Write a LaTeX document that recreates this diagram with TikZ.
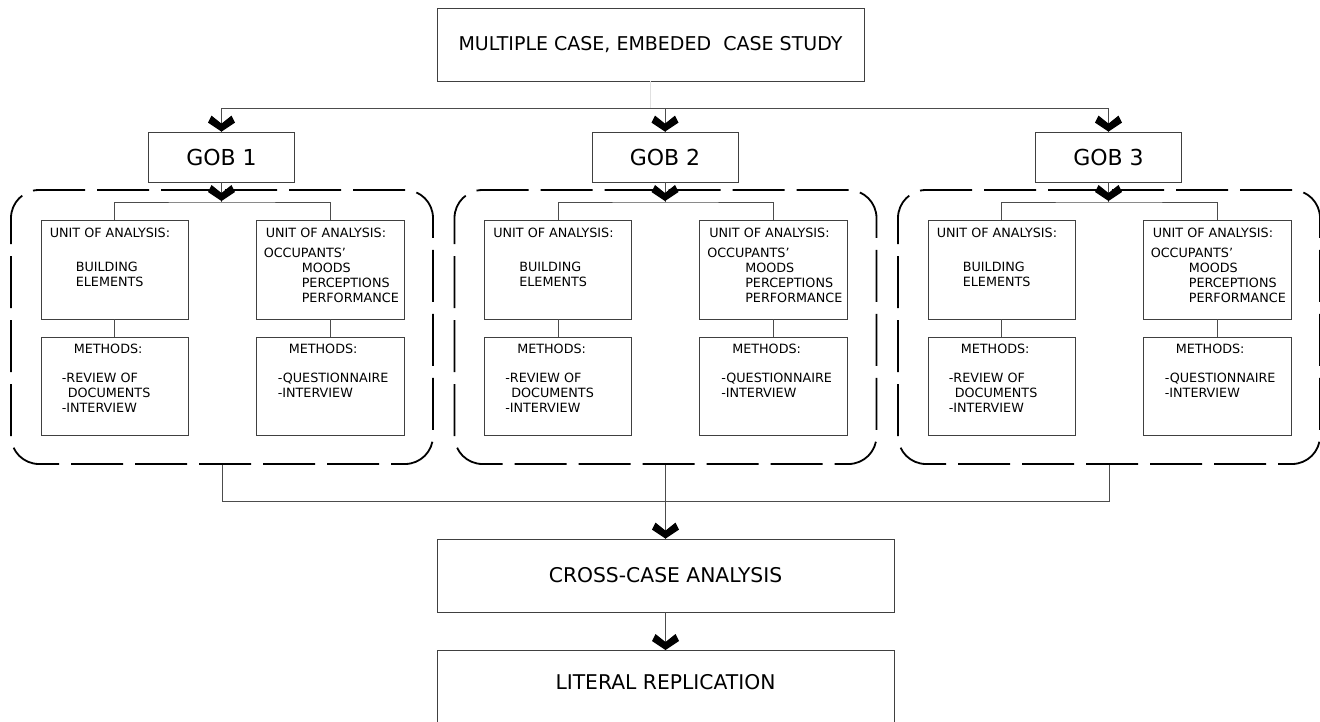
\documentclass[tikz,border=0pt]{standalone}
\usepackage{fontspec}
\setmainfont{DejaVu Sans}
% thick chevron arrowhead whose tip sits on the given point
\newcommand\chevron[1]{\fill (#1) -- ++(-13.5,-9) -- ++(3.5,-7) -- ++(10,8) -- ++(10,-8) -- ++(3.5,7) -- cycle;}
\begin{document}
\begin{tikzpicture}[x=1pt,y=-1pt,
  box/.style={draw=black!75, line width=0.8pt, inner sep=0pt},
  grp/.style={draw=black, line width=1.8pt, dash pattern=on 52pt off 12pt, rounded corners=28pt, inner sep=0pt},
  link/.style={draw=black!70, line width=0.8pt},
  big/.style={font=\fontsize{20.3}{24}\selectfont},
  small/.style={font=\fontsize{12.75}{15}\selectfont, inner sep=0pt, anchor=base west},
]
\useasboundingbox (0,0) rectangle (1320,721);

% study box and the distribution bar
\node[box, minimum width=427, minimum height=73, font=\fontsize{19}{23}\selectfont] (top) at (650.5,44.5) {MULTIPLE CASE, EMBEDED\ \ CASE STUDY};
\coordinate (hl) at (221.5,108);
\coordinate (hr) at (1108.5,108);
\draw[draw=black!12, line width=0.4pt] (top.south) -- (top.south |- hl);
\draw[link] (hl) -- (hr);

\foreach \i/\c in {1/221.5, 2/665, 3/1108.5}{
  % case container
  \node[grp, minimum width=422, minimum height=274] (c\i) at (\c+0.5,327) {};
  % case label
  \node[box, minimum width=146, minimum height=50, font=\fontsize{22}{26}\selectfont] (g\i) at (\c,157) {GOB \i};
  \draw[link] (g\i.north |- hl) -- (g\i.north);
  \chevron{g\i.north}
  % units of analysis
  \node[box, minimum width=147, minimum height=99] (ua\i) at (\c-107,269.5) {};
  \node[box, minimum width=148, minimum height=99] (ub\i) at (\c+108.5,269.5) {};
  % methods
  \node[box, minimum width=147, minimum height=98] (ma\i) at (\c-107,386) {};
  \node[box, minimum width=148, minimum height=98] (mb\i) at (\c+108.5,386) {};
  % connectors
  \coordinate (j\i) at (\c,202);
  \draw[link] (g\i.south) -- (j\i);
  \draw[link] (ua\i.north) |- (j\i) -| (ub\i.north);
  \draw[link] (ua\i.south) -- (ma\i.north);
  \draw[link] (ub\i.south) -- (mb\i.north);
  \chevron{\c,201}
  % texts of the unit boxes
  \node[small] at ([shift={(9,17.5)}]ua\i.north west) {UNIT OF ANALYSIS:};
  \node[small] at ([shift={(35,51.5)}]ua\i.north west) {BUILDING};
  \node[small] at ([shift={(35,66.5)}]ua\i.north west) {ELEMENTS};
  \node[small] at ([shift={(10,17.5)}]ub\i.north west) {UNIT OF ANALYSIS:};
  \node[small] at ([shift={(8,37.5)}]ub\i.north west) {OCCUPANTS'};
  \node[small] at ([shift={(46,52.5)}]ub\i.north west) {MOODS};
  \node[small] at ([shift={(46,67.5)}]ub\i.north west) {PERCEPTIONS};
  \node[small] at ([shift={(46,83)}]ub\i.north west) {PERFORMANCE};
  % texts of the method boxes
  \node[small] at ([shift={(33,16.5)}]ma\i.north west) {METHODS:};
  \node[small] at ([shift={(21,45.5)}]ma\i.north west) {-REVIEW OF};
  \node[small] at ([shift={(27,60.5)}]ma\i.north west) {DOCUMENTS};
  \node[small] at ([shift={(21,75.5)}]ma\i.north west) {-INTERVIEW};
  \node[small] at ([shift={(33,16.5)}]mb\i.north west) {METHODS:};
  \node[small] at ([shift={(22,45.5)}]mb\i.north west) {-QUESTIONNAIRE};
  \node[small] at ([shift={(22,60.5)}]mb\i.north west) {-INTERVIEW};
}

% gathering the cases
\coordinate (bl) at (221.5,501);
\coordinate (br) at (1108.5,501);
\node[box, big, minimum width=457, minimum height=73] (cc) at (665.5,575.5) {CROSS-CASE ANALYSIS};
\draw[link] (c1.south) -- (c1.south |- bl) -- (c3.south |- br) -- (c3.south);
\draw[link] (c2.south) -- (cc.north);
\chevron{cc.north}

% replication
\node[box, minimum width=457, minimum height=90, anchor=north] (lr) at (665.5,650) {};
\node[big, inner sep=0pt] (lrt) at (665.5,682) {LITERAL REPLICATION};
\draw[link] (cc.south) -- (lr.north);
\chevron{lr.north}
\end{tikzpicture}
\end{document}
